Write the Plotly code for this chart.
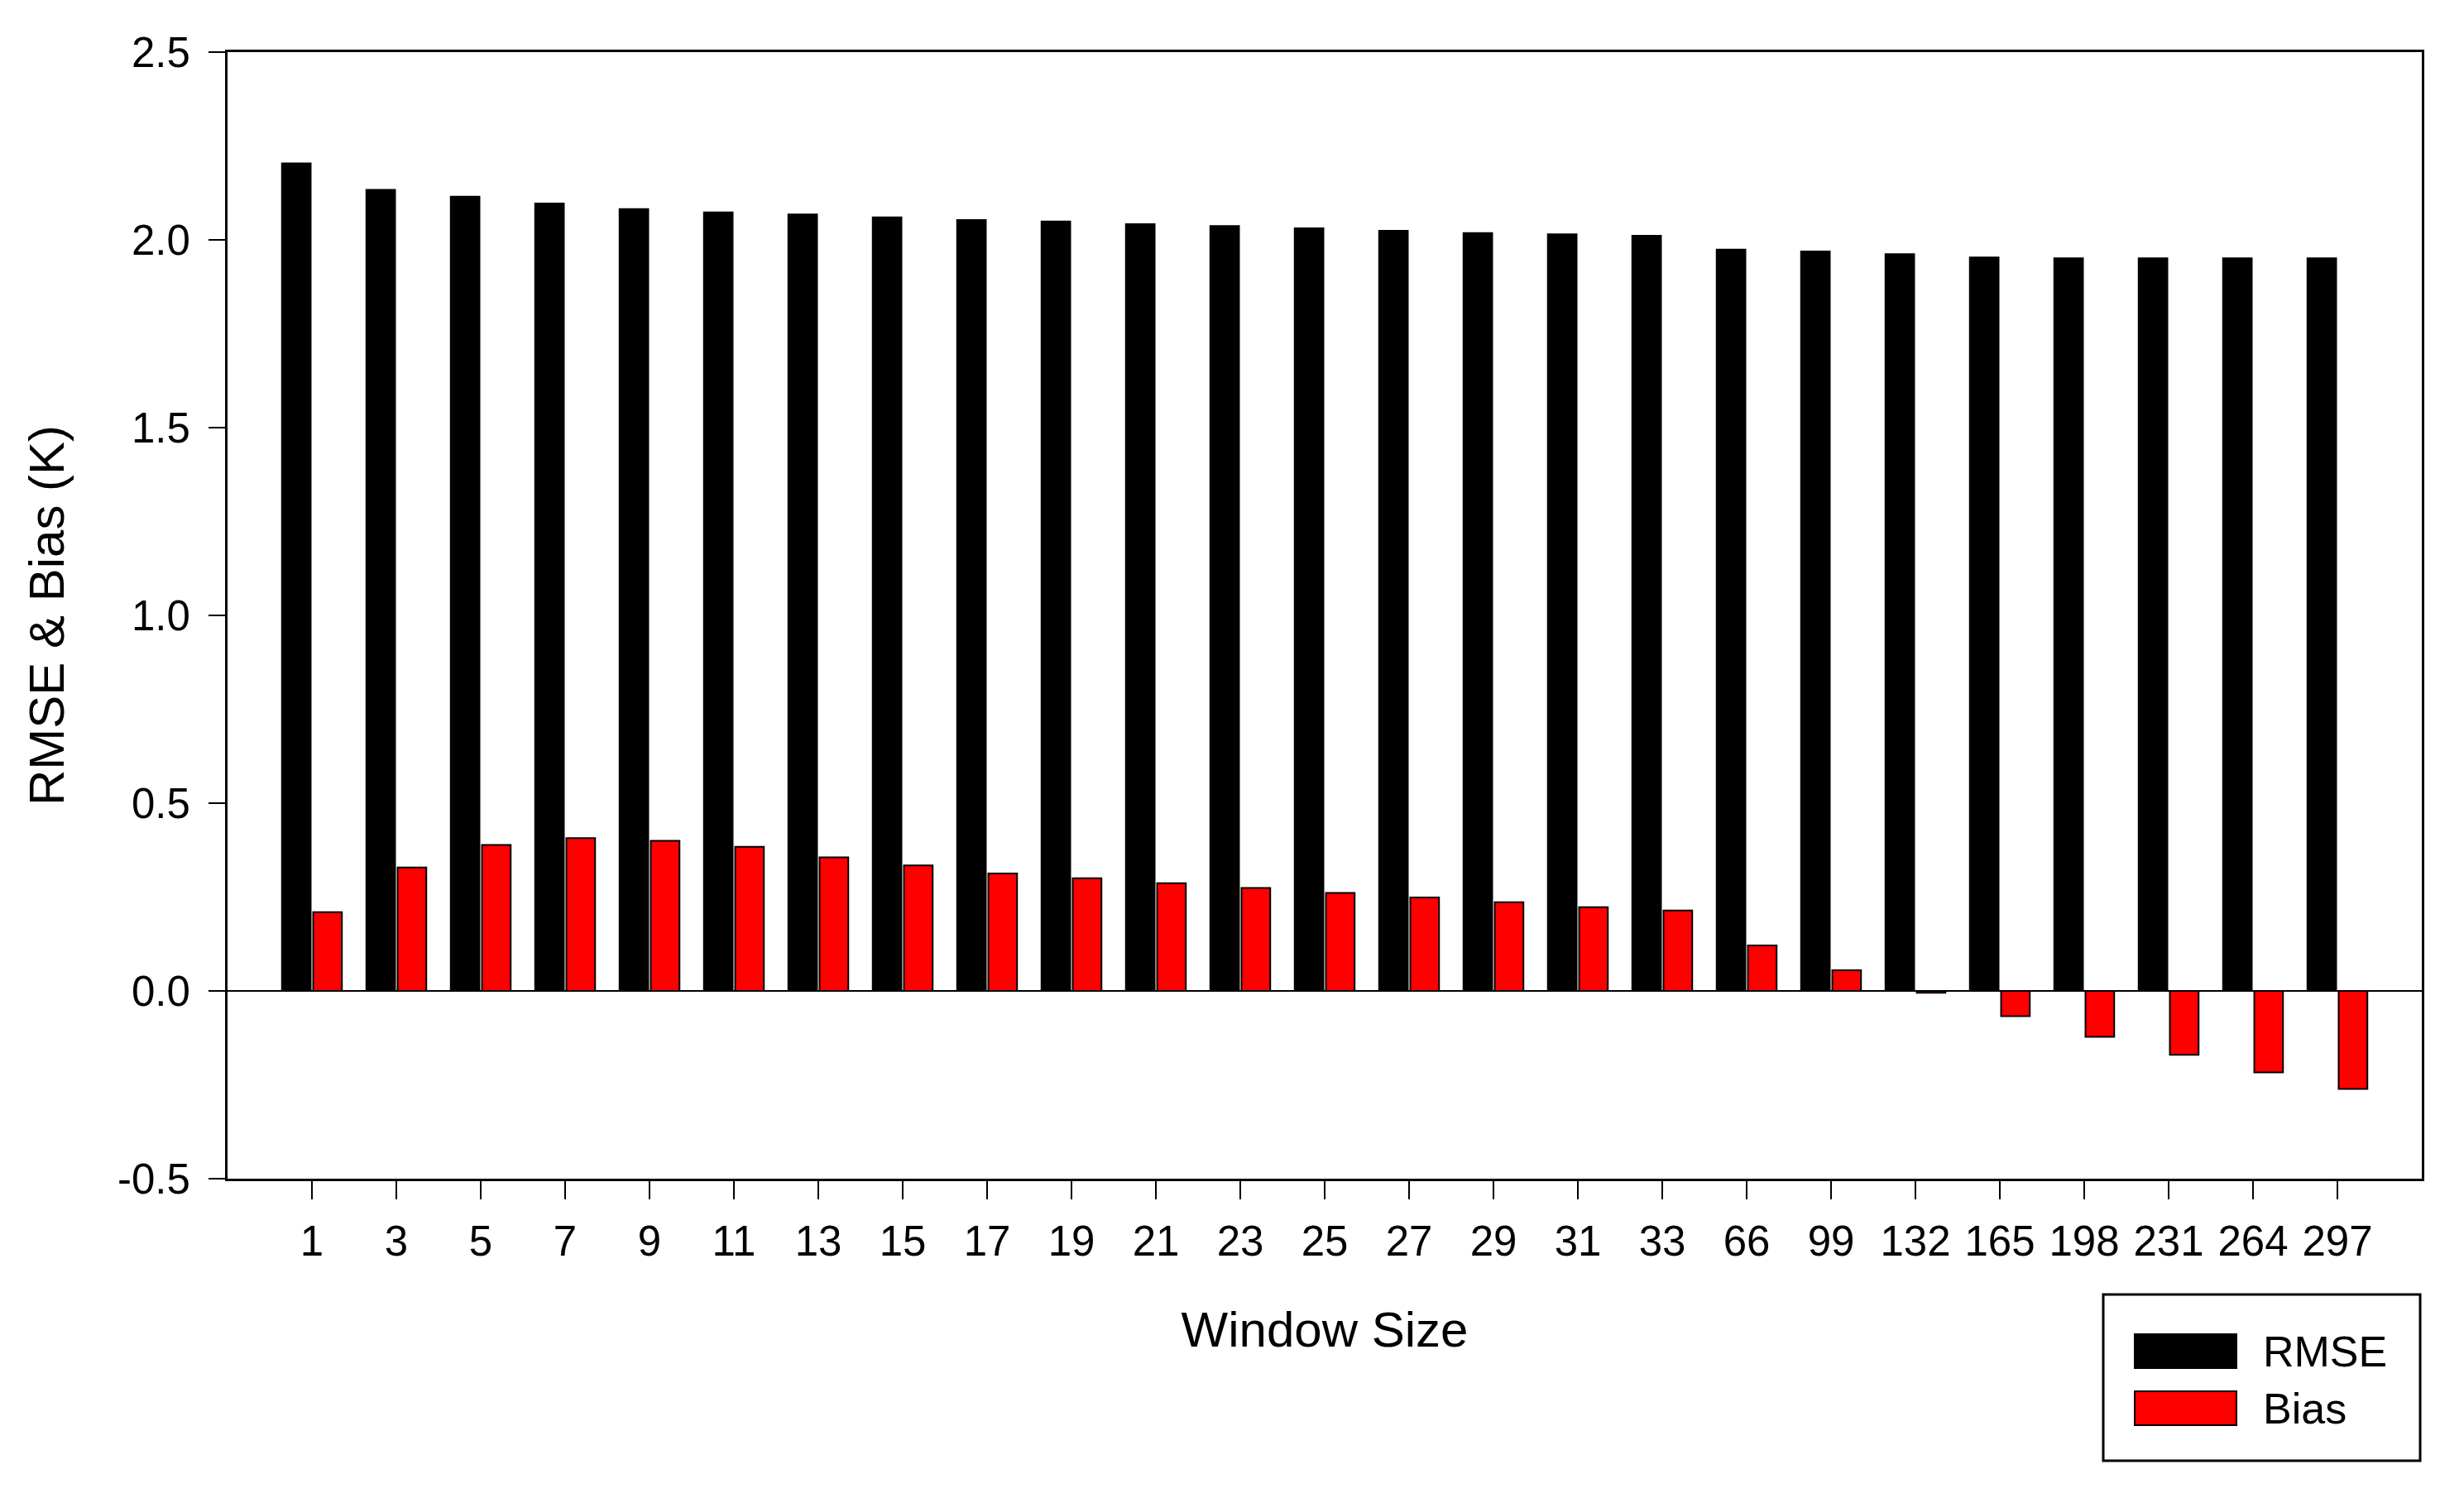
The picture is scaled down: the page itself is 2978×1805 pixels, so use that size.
import plotly.graph_objects as go

# data
window_sizes = ["1", "3", "5", "7", "9", "11", "13", "15", "17", "19", "21", "23", "25",
                "27", "29", "31", "33", "66", "99", "132", "165", "198", "231", "264", "297"]
rmse = [2.204, 2.133, 2.115, 2.097, 2.082, 2.073, 2.068, 2.060, 2.053, 2.049, 2.042, 2.037, 2.031,
        2.024, 2.018, 2.015, 2.011, 1.974, 1.969, 1.962, 1.953, 1.951, 1.951, 1.951, 1.951]
bias = [0.210, 0.329, 0.389, 0.407, 0.400, 0.384, 0.356, 0.334, 0.313, 0.300, 0.287, 0.274, 0.261,
        0.249, 0.236, 0.223, 0.214, 0.121, 0.055, -0.005, -0.067, -0.122, -0.170, -0.217, -0.261]
y_ticks = [-0.5, 0.0, 0.5, 1.0, 1.5, 2.0, 2.5]
series_names = ["RMSE", "Bias"]
series_colors = ["#000000", "#ff0000"]

# the page body has an 8px margin, so everything is shifted back by that much
OFF = 8
W, H = 2978 - OFF, 1805 - OFF
L, R, T, B = 275 - OFF, 2927 - OFF, 63 - OFF, 1425 - OFF  # plot area in pixels
FONT = "Liberation Sans, Arial, sans-serif"


def px(x):
    return (x - OFF - L) / (R - L)


def py(y):
    return (B - (y - OFF)) / (B - T)


fig = go.Figure()
for name, vals, col in zip(series_names, [rmse, bias], series_colors):
    fig.add_trace(go.Bar(x=window_sizes, y=vals, name=name, showlegend=False,
                         marker=dict(color=col, line=dict(color="black", width=2))))

fig.update_layout(
    width=W, height=H,
    margin=dict(l=L, r=W - R, t=T, b=H - B, autoexpand=False),
    paper_bgcolor="white", plot_bgcolor="white",
    barmode="group", bargap=0.26, bargroupgap=0.08,
    font=dict(family=FONT, color="black", size=50),
)

fig.update_xaxes(
    type="category", range=[-1, len(window_sizes)],
    showline=True, linecolor="black", linewidth=3, mirror=True,
    ticks="outside", ticklen=22, tickwidth=2, tickcolor="black",
    ticklabelstandoff=7, showgrid=False,
    tickfont=dict(size=51),
    title=dict(text="Window Size", font=dict(size=60), standoff=58),
)
fig.update_yaxes(
    range=[-0.5, 2.5], tickvals=y_ticks, ticktext=[f"{v:.1f}" for v in y_ticks],
    showline=True, linecolor="black", linewidth=3, mirror=True,
    ticks="outside", ticklen=20, tickwidth=2, tickcolor="black",
    ticklabelstandoff=12, showgrid=False,
    zeroline=True, zerolinecolor="black", zerolinewidth=2,
    tickfont=dict(size=51),
    title=dict(text="RMSE & Bias (K)", font=dict(size=60), standoff=45),
)

# legend box drawn by hand to get the wide swatches
fig.add_shape(type="rect", xref="paper", yref="paper",
              x0=px(2542), x1=px(2925), y0=py(1766), y1=py(1565),
              line=dict(color="black", width=3), fillcolor="white")
for i, (name, col) in enumerate(zip(series_names, series_colors)):
    top = 1613 + i * 69
    fig.add_shape(type="rect", xref="paper", yref="paper",
                  x0=px(2580), x1=px(2703), y0=py(top + 41), y1=py(top),
                  line=dict(color="black", width=2), fillcolor=col)
    fig.add_annotation(xref="paper", yref="paper", x=px(2733), y=py(top + 21),
                       xanchor="left", yanchor="middle", text=name, showarrow=False,
                       font=dict(size=52, family=FONT, color="black"))

fig.write_html("out.html")
